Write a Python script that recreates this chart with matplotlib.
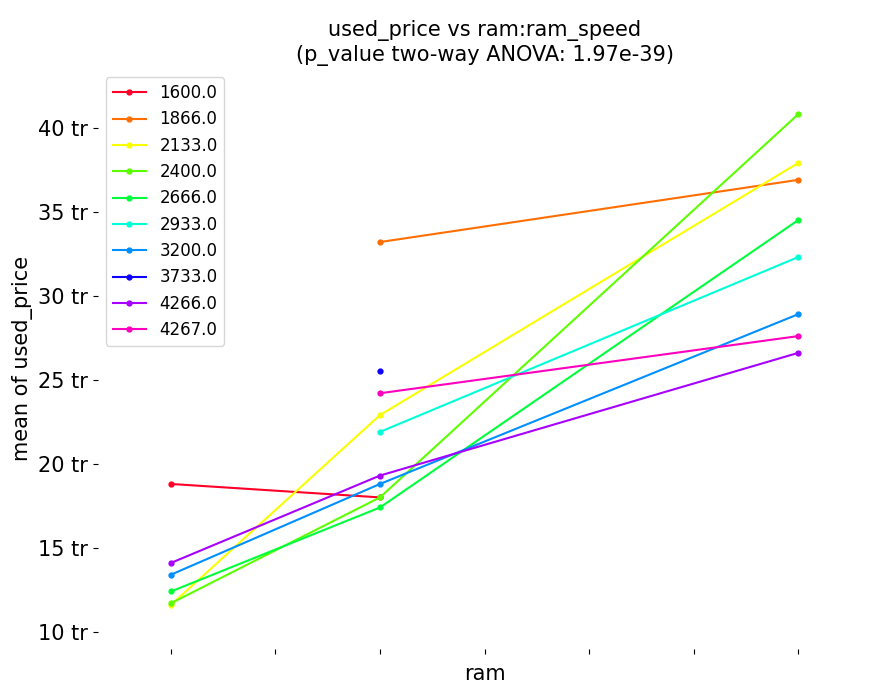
import numpy as np
import matplotlib.pyplot as plt

ram = [4, 8, 16]
speeds = ["1600.0", "1866.0", "2133.0", "2400.0", "2666.0",
          "2933.0", "3200.0", "3733.0", "4266.0", "4267.0"]
means = {
    "1600.0": [18.8, 18.0, None],
    "1866.0": [None, 33.2, 36.9],
    "2133.0": [11.6, 22.9, 37.9],
    "2400.0": [11.7, 18.0, 40.8],
    "2666.0": [12.4, 17.4, 34.5],
    "2933.0": [None, 21.9, 32.3],
    "3200.0": [13.4, 18.8, 28.9],
    "3733.0": [None, 25.5, None],
    "4266.0": [14.1, 19.3, 26.6],
    "4267.0": [None, 24.2, 27.6],
}

fig, ax = plt.subplots(figsize=(8.89, 6.9), dpi=100)
colors = plt.cm.gist_rainbow(np.linspace(0, 1, len(speeds)))
for sp, c in zip(speeds, colors):
    xs = [x for x, v in zip(ram, means[sp]) if v is not None]
    ys = [v for v in means[sp] if v is not None]
    ax.plot(xs, ys, marker='o', markersize=3.5, color=c, label=sp, linewidth=1.5)

ax.set_xticks(np.arange(4, 17, 2))
ax.set_xticklabels([])
ax.set_xlim(2.6, 17.4)
ax.set_ylim(9, 43.5)
ax.set_yticks([10, 15, 20, 25, 30, 35, 40])
ax.set_yticklabels([f"{v} tr" for v in [10, 15, 20, 25, 30, 35, 40]])
ax.tick_params(axis='y', labelsize=15)
for s in ax.spines.values():
    s.set_visible(False)
ax.set_xlabel("ram", fontsize=15)
ax.set_ylabel("mean of used_price", fontsize=15)
ax.set_title("used_price vs ram:ram_speed\n(p_value two-way ANOVA: 1.97e-39)", fontsize=15)
ax.legend(loc='upper left', fontsize=12)
plt.subplots_adjust(left=0.11, right=0.98, top=0.9, bottom=0.06)
plt.savefig("out.png")
